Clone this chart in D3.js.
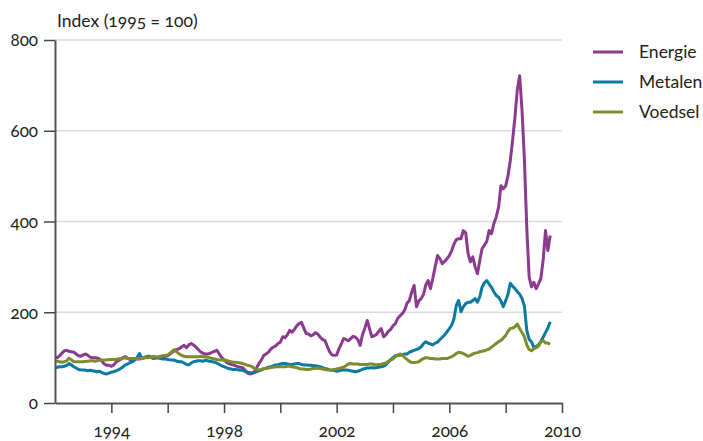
<!DOCTYPE html>
<html>
<head>
<meta charset="utf-8">
<script src="https://cdn.jsdelivr.net/npm/d3@7"></script>
<style>
  body { margin: 0; background: #fff; }
  svg text { font-family: Lato, "Open Sans", sans-serif; font-variant-numeric: oldstyle-nums; font-feature-settings: "onum"; fill: #222; }
</style>
</head>
<body>
<div id="chart"></div>
<script>
// monthly index values, Jan 1992 .. Aug 2009 (1995 = 100)
const energie = [
  101, 100, 104, 110, 115, 116, 114, 113, 112, 108, 104, 103, // 1992
  106, 108, 105, 101, 100, 100, 99, 97, 92, 86, 83, 83,       // 1993
  81, 84, 90, 93, 96, 100, 102, 99, 95, 94, 97, 97,           // 1994
  97, 98, 100, 101, 103, 100, 98, 99, 101, 100, 102, 103,     // 1995
  104, 108, 112, 115, 118, 120, 124, 127, 122, 128, 131, 128, // 1996
  123, 118, 113, 110, 108, 108, 109, 112, 114, 116, 108, 100, // 1997
  95, 90, 87, 85, 84, 82, 80, 79, 78, 72, 66, 64,             // 1998
  65, 69, 78, 88, 95, 105, 108, 112, 119, 123, 126, 131,      // 1999
  134, 146, 144, 150, 160, 156, 162, 170, 175, 178, 165, 153, // 2000
  152, 148, 150, 155, 152, 145, 140, 138, 125, 113, 106, 105, // 2001
  106, 120, 130, 142, 140, 137, 142, 147, 145, 140, 127, 150, // 2002
  165, 182, 165, 146, 148, 151, 158, 164, 146, 150, 158, 162, // 2003
  170, 175, 186, 192, 197, 205, 220, 226, 245, 259, 212, 225, // 2004
  230, 240, 260, 270, 252, 275, 300, 325, 318, 307, 312, 318, // 2005
  325, 336, 350, 360, 362, 362, 380, 375, 329, 311, 322, 300, // 2006
  285, 315, 340, 348, 356, 380, 373, 395, 410, 431, 479, 472, // 2007
  478, 501, 534, 580, 630, 692, 721, 644, 534, 387, 278, 256, // 2008
  266, 252, 262, 274, 314, 380, 336, 369                      // 2009
];
const metalen = [
  78, 79, 80, 80, 81, 83, 87, 84, 80, 77, 74, 73,             // 1992
  73, 72, 71, 72, 71, 70, 69, 70, 67, 65, 64, 66,             // 1993
  68, 69, 71, 73, 76, 80, 84, 86, 89, 91, 95, 100,            // 1994
  109, 98, 100, 102, 103, 101, 102, 100, 99, 98, 97, 97,      // 1995
  96, 95, 95, 94, 92, 91, 91, 88, 85, 84, 88, 91,             // 1996
  92, 93, 93, 92, 94, 93, 92, 91, 90, 88, 85, 82,             // 1997
  80, 78, 76, 75, 74, 74, 73, 72, 72, 70, 68, 67,             // 1998
  66, 67, 69, 71, 73, 75, 77, 79, 80, 82, 84, 84,             // 1999
  86, 87, 87, 86, 85, 85, 86, 87, 87, 85, 84, 84,             // 2000
  83, 83, 82, 82, 81, 80, 78, 76, 75, 73, 72, 72,             // 2001
  70, 71, 72, 73, 73, 72, 71, 70, 69, 70, 72, 74,             // 2002
  76, 77, 77, 78, 77, 78, 79, 80, 81, 84, 90, 95,             // 2003
  100, 104, 105, 105, 106, 108, 108, 112, 114, 116, 118, 120, // 2004
  124, 131, 135, 132, 130, 128, 132, 134, 140, 145, 150, 157, // 2005
  164, 172, 185, 215, 226, 201, 212, 219, 222, 222, 226, 230, // 2006
  222, 235, 255, 265, 270, 262, 255, 245, 237, 233, 225, 212, // 2007
  225, 240, 264, 257, 252, 245, 240, 230, 213, 160, 140, 135, // 2008
  122, 125, 128, 135, 145, 155, 165, 179                      // 2009
];
const voedsel = [
  92, 92, 91, 90, 91, 93, 99, 95, 91, 91, 91, 91,             // 1992
  91, 92, 92, 93, 93, 92, 93, 94, 95, 95, 95, 96,             // 1993
  96, 96, 96, 97, 98, 99, 99, 98, 98, 98, 98, 98,             // 1994
  98, 98, 99, 100, 100, 101, 102, 102, 101, 103, 104, 105,    // 1995
  106, 110, 114, 118, 112, 108, 105, 103, 102, 102, 102, 102, // 1996
  102, 102, 103, 102, 102, 101, 100, 98, 97, 96, 95, 95,      // 1997
  95, 94, 92, 91, 90, 90, 89, 88, 87, 85, 83, 82,             // 1998
  80, 76, 74, 73, 74, 76, 76, 77, 78, 79, 80, 80,             // 1999
  80, 80, 80, 81, 81, 80, 79, 78, 76, 75, 75, 74,             // 2000
  74, 75, 76, 76, 77, 76, 75, 74, 73, 73, 73, 74,             // 2001
  75, 76, 78, 79, 82, 86, 87, 86, 86, 86, 85, 85,             // 2002
  85, 85, 86, 86, 85, 84, 85, 85, 87, 88, 92, 95,             // 2003
  97, 102, 105, 108, 106, 100, 96, 92, 89, 89, 90, 91,        // 2004
  95, 98, 100, 99, 98, 98, 97, 97, 97, 98, 98, 98,            // 2005
  100, 102, 105, 109, 112, 111, 109, 106, 103, 105, 108, 110, // 2006
  111, 113, 114, 115, 117, 119, 123, 127, 131, 135, 138, 143, // 2007
  149, 158, 164, 165, 168, 174, 164, 155, 146, 128, 118, 115, // 2008
  120, 122, 125, 135, 138, 132, 132, 130                      // 2009
];
const seriesNames = ["Energie", "Metalen", "Voedsel"];
const seriesColors = ["#8b3a8f", "#0a7aa0", "#7d8c2c"];
const yTicks = [0, 200, 400, 600, 800];
const xTickYears = [1994, 1996, 1998, 2000, 2002, 2004, 2006, 2008, 2010];
const xLabelYears = [1994, 1998, 2002, 2006, 2010];
const startYear = 1992, endYear = 2010;

const width = 703, height = 441;
const margin = { top: 40, right: 141, bottom: 38, left: 55 };

const svg = d3.select('#chart')
  .append('svg')
  .attr('width', width)
  .attr('height', height);

const x = d3.scaleTime()
  .domain([new Date(startYear, 0, 1), new Date(endYear, 0, 1)])
  .range([margin.left, width - margin.right]);

const y = d3.scaleLinear()
  .domain([0, 800])
  .range([height - margin.bottom, margin.top]);

const months = energie.map((d, i) => new Date(startYear, i, 1));

// gridlines
svg.append('g')
  .selectAll('line')
  .data(yTicks.filter(d => d > 0))
  .join('line')
  .attr('x1', margin.left)
  .attr('x2', width - margin.right)
  .attr('y1', d => y(d))
  .attr('y2', d => y(d))
  .attr('stroke', '#dcdcdc')
  .attr('stroke-width', 1.5);

// lines
const line = d3.line()
  .x((d, i) => x(months[i]))
  .y(d => y(d));

svg.append('g')
  .selectAll('path')
  .data([energie, metalen, voedsel])
  .join('path')
  .attr('d', line)
  .attr('fill', 'none')
  .attr('stroke', (d, i) => seriesColors[i])
  .attr('stroke-width', 3)
  .attr('stroke-linejoin', 'round');

// axes
const yAxis = svg.append('g')
  .attr('transform', `translate(${margin.left},0)`)
  .call(d3.axisLeft(y).tickValues(yTicks).tickSize(11).tickSizeOuter(0).tickPadding(6));

const xAxis = svg.append('g')
  .attr('transform', `translate(0,${height - margin.bottom})`)
  .call(d3.axisBottom(x)
    .tickValues(xTickYears.map(d => new Date(d, 0, 1)))
    .tickFormat(d => xLabelYears.includes(d.getFullYear()) ? d.getFullYear() : '')
    .tickSize(10).tickSizeOuter(0).tickPadding(12));

[yAxis, xAxis].forEach(g => {
  g.select('.domain').attr('stroke', '#555').attr('stroke-width', 2);
  g.selectAll('.tick line').attr('stroke', '#444').attr('stroke-width', 1.5);
  g.selectAll('text').attr('font-size', 17).attr('fill', '#222');
});
yAxis.selectAll('text').attr('dy', '0.35em');

svg.append('text')
  .attr('x', 57)
  .attr('y', 27)
  .attr('font-size', 17.5)
  .text('Index (1995 = 100)');

// legend
const legend = svg.append('g')
  .selectAll('g')
  .data(seriesNames)
  .join('g')
  .attr('transform', (d, i) => `translate(593,${52 + i * 30})`);

legend.append('line')
  .attr('x1', 0)
  .attr('x2', 30)
  .attr('stroke', (d, i) => seriesColors[i])
  .attr('stroke-width', 3);

legend.append('text')
  .attr('x', 46)
  .attr('dy', '0.35em')
  .attr('font-size', 17.5)
  .text(d => d);
</script>
</body>
</html>
